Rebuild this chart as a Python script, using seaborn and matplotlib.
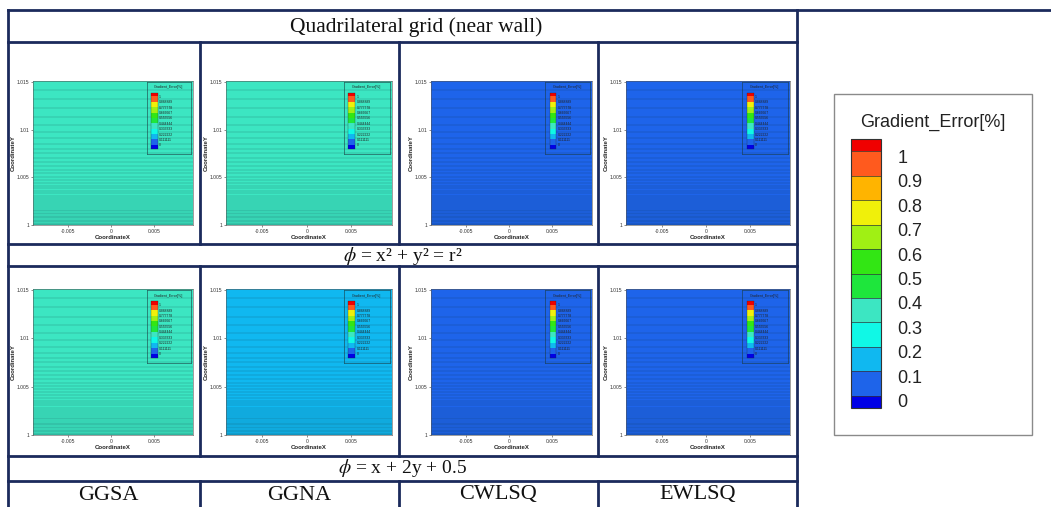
import numpy as np
import pandas as pd
import matplotlib
matplotlib.use("Agg")
import matplotlib.pyplot as plt
import seaborn as sns
from matplotlib.colors import ListedColormap, BoundaryNorm
from matplotlib.cm import ScalarMappable
from matplotlib.lines import Line2D
from matplotlib.patches import Rectangle
from matplotlib.transforms import ScaledTranslation

# ---------------- data ----------------
methods = ["GGSA", "GGNA", "CWLSQ", "EWLSQ"]
case_titles = [r"$\phi$ = x² + y² = r²",
               r"$\phi$ = x + 2y + 0.5"]
header = "Quadrilateral grid (near wall)"
# gradient error level (percent) shown in each panel
err_quadratic = [0.35, 0.35, 0.05, 0.05]
err_linear = [0.35, 0.15, 0.05, 0.05]

levels = [0.0, 0.1, 0.2, 0.3, 0.4, 0.5, 0.6, 0.7, 0.8, 0.9, 1.0]
level_labels = ["0", "0.1", "0.2", "0.3", "0.4", "0.5", "0.6", "0.7", "0.8", "0.9", "1"]
level_colors = ["#1e64ea", "#10b8f0", "#10f8e6", "#3ce6c2", "#1ee63c",
                "#32e614", "#a0f014", "#f0f00a", "#ffb400", "#ff5a1e"]
under_color = "#0000e6"
over_color = "#f00000"

mini_levels = [0.0, 0.111111, 0.222222, 0.333333, 0.444444, 0.555556,
               0.666667, 0.777778, 0.888889, 1.0]
mini_labels = ["0", "0.111111", "0.222222", "0.333333", "0.444444", "0.555556",
               "0.666667", "0.777778", "0.888889", "1"]

# grid lines (CoordinateY)
mesh_y = [1.01415, 1.01320, 1.01225, 1.01137, 1.01053, 1.00979, 1.00912, 1.00852,
          1.00799, 1.00750, 1.00704, 1.00658, 1.00616, 1.00577, 1.00542, 1.00507,
          1.00472, 1.00440, 1.00412, 1.00384, 1.00356, 1.00331, 1.00306, 1.00282,
          1.00261, 1.00239, 1.00218, 1.00197, 1.00180, 1.00162, 1.00144, 1.00127,
          1.00113, 1.00099, 1.00085, 1.00070, 1.00056, 1.00042, 1.00028, 1.00014,
          1.00008, 1.00004]
x_range = [-0.0091, 0.0096]
y_range = [1.0, 1.0151]
x_ticks = [-0.005, 0.0, 0.005]
x_ticklabels = ["-0.005", "0", "0.005"]
y_ticks = [1.0, 1.005, 1.01, 1.015]
y_ticklabels = ["1", "1.005", "1.01", "1.015"]

# ---------------- style ----------------
sns.set_theme(style="white")
plt.rcParams["font.family"] = ["Liberation Sans", "DejaVu Sans"]
plt.rcParams["mathtext.fontset"] = "stix"

W, H = 1051, 507
fig = plt.figure(figsize=(W / 100, H / 100), dpi=100)
fig.patch.set_facecolor("white")


def fbox(x0, y0, x1, y1):
    return [x0 / W, 1 - y1 / H, (x1 - x0) / W, (y1 - y0) / H]


cmap = ListedColormap(level_colors)
cmap.set_under(under_color)
cmap.set_over(over_color)
norm = BoundaryNorm(levels, cmap.N)
mini_norm = BoundaryNorm(mini_levels, cmap.N)

cols_x = [(33, 193), (226, 392), (431, 592), (626, 790)]
rows_y = [(81, 225), (289, 435)]

mesh_df = pd.DataFrame({
    "x": np.repeat([x_range], len(mesh_y), axis=0).ravel(),
    "y": np.repeat(mesh_y, 2),
    "line": np.repeat(np.arange(len(mesh_y)), 2),
})

for r, errs in enumerate([err_quadratic, err_linear]):
    for c, v in enumerate(errs):
        x0, x1 = cols_x[c]
        y0, y1 = rows_y[r]
        ax = fig.add_axes(fbox(x0, y0, x1, y1))
        ax.pcolormesh(x_range, y_range, np.array([[v]]), cmap=cmap, norm=norm,
                      shading="flat")
        sns.lineplot(data=mesh_df, x="x", y="y", units="line", estimator=None,
                     color="#10303a", alpha=0.4, linewidth=0.35, legend=False, ax=ax)
        ax.set_xlim(x_range)
        ax.set_ylim(y_range)
        ax.set_xticks(x_ticks)
        ax.set_xticklabels(x_ticklabels)
        ax.set_yticks(y_ticks)
        ax.set_yticklabels(y_ticklabels)
        ax.tick_params(labelsize=3.6, length=1.5, width=0.4, pad=1.2,
                       colors="#333333", bottom=True, left=True)
        ax.set_xlabel("CoordinateX", fontsize=4.3, fontweight="bold", labelpad=1.0)
        ax.set_ylabel("CoordinateY", fontsize=4.3, fontweight="bold", labelpad=0.4)
        for s in ax.spines.values():
            s.set_linewidth(0.4)
            s.set_color("#555555")
        # tiny in-plot legend
        lg = ax.inset_axes([0.71, 0.49, 0.275, 0.50])
        lg.set_facecolor("none")
        lg.set_xticks([])
        lg.set_yticks([])
        for s in lg.spines.values():
            s.set_linewidth(0.4)
            s.set_color("#1a3a40")
        lg.text(0.5, 0.93, "Gradient_Error[%]", fontsize=2.6, ha="center",
                va="center", transform=lg.transAxes, color="#222222")
        cax = lg.inset_axes([0.1, 0.08, 0.15, 0.78])
        cb = fig.colorbar(ScalarMappable(norm=mini_norm, cmap=cmap), cax=cax,
                          extend="both", extendrect=True, extendfrac=0.08,
                          ticks=mini_levels)
        cb.set_ticklabels(mini_labels)
        cb.outline.set_linewidth(0.2)
        cax.tick_params(labelsize=2.4, length=0, pad=1.0, colors="#222222")

# ---------------- table grid ----------------
line_kw = dict(color="#1b2a5c", linewidth=2.0, solid_capstyle="projecting")


def hline(y, xa, xb):
    fig.add_artist(Line2D([xa / W, xb / W], [1 - y / H, 1 - y / H], **line_kw))


def vline(x, ya, yb):
    fig.add_artist(Line2D([x / W, x / W], [1 - ya / H, 1 - yb / H], **line_kw))


hline(10, 8, W)
for y in [42, 244, 266, 456, 481]:
    hline(y, 8, 797)
vline(8, 10, H + 2)
vline(797, 10, H + 2)
for x in [200, 399, 598]:
    vline(x, 42, 244)
    vline(x, 266, 456)
    vline(x, 481, H + 2)

serif = ["Liberation Serif", "DejaVu Serif"]
fig.text(416 / W, 1 - 27 / H, header, fontsize=15.5, family=serif,
         ha="center", va="center", color="#111111")
fig.text(403 / W, 1 - 256 / H, case_titles[0], fontsize=14, family=serif,
         ha="center", va="center", color="#111111")
fig.text(403 / W, 1 - 468 / H, case_titles[1], fontsize=14, family=serif,
         ha="center", va="center", color="#111111")
centers = [108, 299.5, 498.5, 697.5]
for cx, m in zip(centers, methods):
    fig.text(cx / W, 1 - 495 / H, m, fontsize=16, family=serif,
             ha="center", va="center", color="#111111")

# ---------------- main legend ----------------
fig.add_artist(Rectangle((834 / W, 1 - 435 / H), (1032 - 834) / W, (435 - 94) / H,
                         transform=fig.transFigure, facecolor="none",
                         edgecolor="#8a8a8a", linewidth=1.0, zorder=-1))
fig.text(933 / W, 1 - 122 / H, "Gradient_Error[%]", fontsize=13,
         ha="center", va="center", color="#222222")
cax = fig.add_axes(fbox(851, 139, 881, 408))
cb = fig.colorbar(ScalarMappable(norm=norm, cmap=cmap), cax=cax, extend="both",
                  extendrect=True, extendfrac=0.05, drawedges=True, ticks=levels)
cb.set_ticklabels(level_labels)
cb.outline.set_linewidth(0.8)
cb.outline.set_edgecolor("#333333")
cb.dividers.set_linewidth(0.5)
cb.dividers.set_color("#333333")
cax.tick_params(labelsize=13, length=0, pad=12, colors="#222222")
shift = ScaledTranslation(0, -5 / 100, fig.dpi_scale_trans)
for lab in cax.get_yticklabels():
    lab.set_transform(lab.get_transform() + shift)

fig.savefig("out.png", dpi=100, facecolor="white")
